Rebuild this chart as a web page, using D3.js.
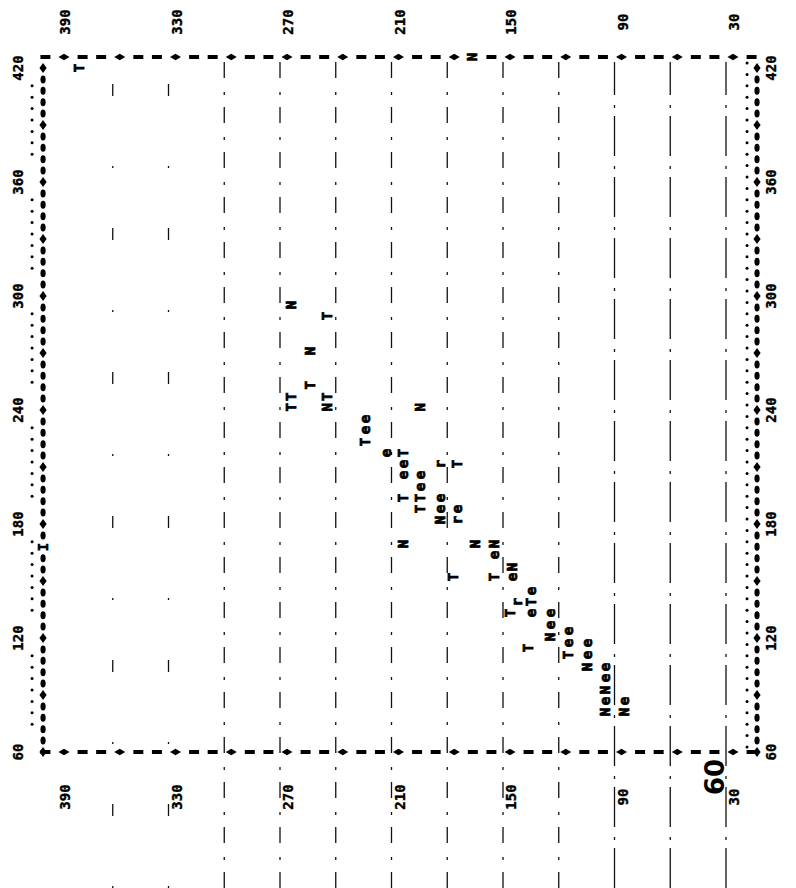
<!DOCTYPE html>
<html><head><meta charset="utf-8">
<script src="https://cdn.jsdelivr.net/npm/d3@7"></script>
<style>html,body{margin:0;padding:0;background:#fff}svg{display:block}</style>
</head><body>
<svg id="chart" width="796" height="888"></svg>
<script>
// ---------- data (original, unrotated chart) ----------
const xTickVals = [60, 120, 180, 240, 300, 360, 420];
const yTickVals = [390, 330, 270, 210, 150, 90, 30];
const gridVals  = [360, 330, 300, 270, 240, 210, 180, 150, 120, 90, 60, 30];
const xFrame = [60, 425.8];
const yFrame = [13.3, 397.5];

const ptX = [420, 295.3, 289.5, 271, 253, 247, 247, 241.5, 241.5, 241.5,
  235.3, 229.5, 223.2, 217.4, 217.4, 211.6, 211.6, 211.6, 205.8, 205.8,
  199.5, 193.7, 193.7, 193.7, 187.9, 187.9, 187.9, 182.1, 182.1, 169.5,
  169.5, 169.5, 163.7, 157.4, 152.1, 152.1, 152.1, 144.7, 138.9, 138.9,
  133.2, 133.2, 133.2, 126.8, 120.5, 114.7,
  123.7, 117.4, 111, 117.4, 111, 104.7, 104.7, 99, 92.6, 86.8, 81, 86.8, 81];
const ptY = [378, 264, 244.5, 254, 254, 264, 244.5, 264, 244.5, 194.5,
  224, 224, 224, 213, 204, 204, 184, 174.5, 204, 194.5,
  194.5, 204, 194.5, 184, 194.5, 184, 174.5, 184, 174.5, 204,
  165, 155, 155, 145, 177, 155, 145, 135, 142.5, 135,
  146, 135, 124.5, 124.5, 124.5, 136.5,
  115, 115, 115, 105, 105, 105, 95, 95, 95, 95, 95, 85, 85];
const ptSym = ["T", "N", "T", "N", "T", "T", "T", "T", "N", "N",
  "e", "e", "T", "e", "T", "e", "r", "T", "e", "e",
  "e", "T", "T", "e", "T", "e", "e", "N", "r", "N",
  "N", "N", "e", "N", "T", "T", "e", "e", "r", "T",
  "T", "e", "e", "e", "N", "T",
  "e", "e", "T", "e", "e", "N", "e", "e", "N", "e", "N", "e", "N"];

// mean markers printed on the frame
const meanX = 167.9;
const meanY = 166.7;

// ---------- scales ----------
const W = 796, H = 888;
const xScale = d3.scaleLinear().domain([60, 420]).range([136, 820]); // along page (bottom -> top)
const yScale = d3.scaleLinear().domain([30, 270]).range([726, 280]); // across page (right -> left)

const svg = d3.select("#chart");
svg.append("rect").attr("width", W).attr("height", H).attr("fill", "#fff");
// the whole printout is rotated 90 degrees counter-clockwise
const g = svg.append("g").attr("transform", `translate(0,${H}) rotate(-90)`);

const uTop = xScale(xFrame[1]), uBot = xScale(xFrame[0]);
const wL = yScale(yFrame[1]), wR = yScale(yFrame[0]);

// ---------- grid lines (horizontal in the original) ----------
g.append("g").selectAll("line").data(gridVals).join("line")
  .attr("x1", 0).attr("x2", uTop - 5)
  .attr("y1", d => yScale(d)).attr("y2", d => yScale(d))
  .attr("stroke", "#111").attr("stroke-width", 1.3)
  .attr("stroke-dasharray", d => d >= 330 ? "2,70,12,60" : (d <= 90 ? "40,8,3,10" : "16,12,3,14"));

// ---------- frame ----------
const frame = g.append("g").attr("fill", "#000");
const xSteps = d3.range(xFrame[0], xFrame[1], 6);
[wL, wR].forEach(w => {
  frame.selectAll(null).data(xSteps).join("path")
    .attr("d", d => {
      const u = xScale(d);
      if ((d - 60) % 30 === 0) return `M${u - 5},${w} L${u},${w - 3.6} L${u + 5},${w} L${u},${w + 3.6} Z`;
      return `M${u - 4},${w} a4,2.6 0 1,0 8,0 a4,2.6 0 1,0 -8,0`;
    });
});
// fine dotted rulers next to the x borders
const labelNear = d => xTickVals.some(t => Math.abs(xScale(t) - xScale(d)) < 16);
frame.selectAll(null).data(xSteps.filter(d => !labelNear(d))).join("circle")
  .attr("cx", d => xScale(d) + 5).attr("cy", wL - 11).attr("r", 1.5);
frame.selectAll(null).data(xSteps).join("circle")
  .attr("cx", d => xScale(d) + 5).attr("cy", wR - 10).attr("r", 1.5);

const ySteps = d3.range(400, 10, -10);
[uTop, uBot].forEach(u => {
  frame.selectAll(null).data(ySteps).join("path")
    .attr("d", d => {
      const w = yScale(d) + 7;
      if (d % 30 === 0) return `M${u},${w - 5.5} L${u + 3.2},${w} L${u},${w + 5.5} L${u - 3.2},${w} Z`;
      return `M${u - 2},${w - 5} h4 v10 h-4 Z`;
    });
});

// ---------- tick labels ----------
const lab = g.append("g").attr("font-family", "'DejaVu Sans Mono', monospace")
  .attr("font-weight", "bold").attr("font-size", 14).attr("fill", "#000")
  .attr("stroke", "#000").attr("stroke-width", 0.4)
  .attr("text-anchor", "middle").attr("dominant-baseline", "central");
[18, 771].forEach(w => {
  lab.selectAll(null).data(xTickVals).join("text")
    .attr("x", d => xScale(d)).attr("y", w).text(d => d);
});
[H - 22, H - 797].forEach(u => {
  lab.selectAll(null).data(yTickVals).join("text")
    .attr("x", u).attr("y", d => yScale(d) + 8).text(d => d);
});

// ---------- plotted symbols ----------
const pts = ptX.map((x, i) => ({x, y: ptY[i], s: ptSym[i]}));
g.append("g").attr("font-family", "'DejaVu Sans Mono', monospace")
  .attr("font-weight", "bold").attr("font-size", 14).attr("fill", "#000")
  .attr("stroke", "#000").attr("stroke-width", 0.8)
  .attr("text-anchor", "middle").attr("dominant-baseline", "central")
  .selectAll("text").data(pts).join("text")
  .attr("x", d => xScale(d.x)).attr("y", d => yScale(d.y)).text(d => d.s);

// mean markers on the frame
const mm = g.append("g").attr("font-family", "'DejaVu Sans Mono', monospace")
  .attr("font-weight", "bold").attr("font-size", 14).attr("fill", "#000")
  .attr("stroke", "#000").attr("stroke-width", 0.6)
  .attr("text-anchor", "middle").attr("dominant-baseline", "central");
mm.append("rect").attr("x", uTop - 6).attr("y", yScale(meanY) - 7).attr("width", 12).attr("height", 14).attr("fill", "#fff").attr("stroke", "none");
mm.append("text").attr("x", uTop).attr("y", yScale(meanY)).text("N");
mm.append("rect").attr("x", xScale(meanX) - 6).attr("y", wL - 7).attr("width", 12).attr("height", 14).attr("fill", "#fff").attr("stroke", "none");
mm.append("text").attr("x", xScale(meanX)).attr("y", wL).text("I");

// page number
g.append("text").attr("x", H - 777).attr("y", 715)
  .attr("font-family", "'DejaVu Sans', sans-serif").attr("font-weight", "bold")
  .attr("font-size", 26).attr("text-anchor", "middle").attr("dominant-baseline", "central")
  .text("60");
</script>
</body></html>
